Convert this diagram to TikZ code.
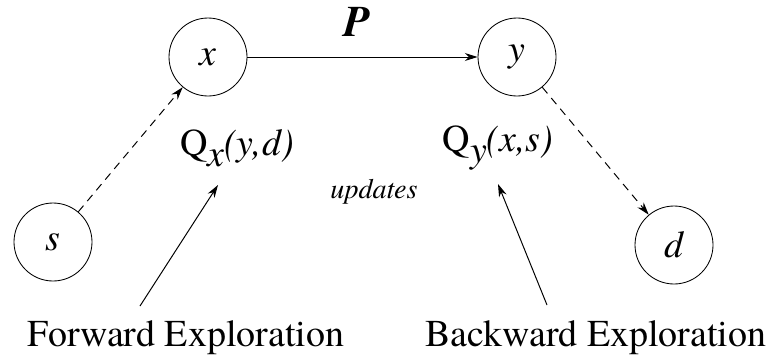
\documentclass[tikz,border=0pt]{standalone}
\usepackage{fontspec}
\setmainfont{TeX Gyre Termes}
\usetikzlibrary{arrows.meta}

\tikzset{
  place/.style={draw,circle,line width=0.6pt,minimum size=1.95cm,inner sep=0pt,font=\fontsize{27}{32}\selectfont\itshape},
  lbl/.style={inner sep=0pt,font=\fontsize{27}{32}\selectfont},
  flow/.style={line width=0.7pt,-{Stealth[length=0.32cm,width=0.2cm]}},
  hint/.style={flow,dash pattern=on 0.2cm off 0.15cm}
}

\begin{document}
\begin{tikzpicture}[x=1cm,y=1cm,>=Stealth]
\useasboundingbox (0,0) rectangle (19.35,9.05);
% the four states
\node[place] (x) at (5.2,7.625) {x};
\node[place] (y) at (12.925,7.625) {y};
\node[place] (s) at (1.325,3.0) {s};
\node[place] (d) at (16.85,2.925) {d};
\draw[flow] (x) -- (y);
\node[lbl,font=\fontsize{31}{36}\selectfont\bfseries\itshape] (p) at (8.925,8.5) {P};
\draw[hint] (s) -- (x);
\draw[hint] (y) -- (d);
% estimates and what updates them
\node[lbl] (qx) at (5.925,5.35) {Q\raisebox{-0.3em}{\itshape x}\textit{(y,d)}};
\node[lbl] (qy) at (12.45,5.35) {Q\raisebox{-0.3em}{\itshape y}\textit{(x,s)}};
\node[lbl,font=\fontsize{20}{24}\selectfont\itshape] (upd) at (9.35,4.25) {updates};
\node[lbl] (fwd) at (4.65,0.6) {Forward Exploration};
\node[lbl] (bwd) at (14.9,0.6) {Backward Exploration};
\coordinate (fwtail) at (3.5,1.4);
\coordinate (fwhead) at (5.45,4.425);
\coordinate (bwtail) at (13.675,1.425);
\coordinate (bwhead) at (12.45,4.45);
\draw[flow] (fwtail) -- (fwhead);
\draw[flow] (bwtail) -- (bwhead);
\end{tikzpicture}
\end{document}
